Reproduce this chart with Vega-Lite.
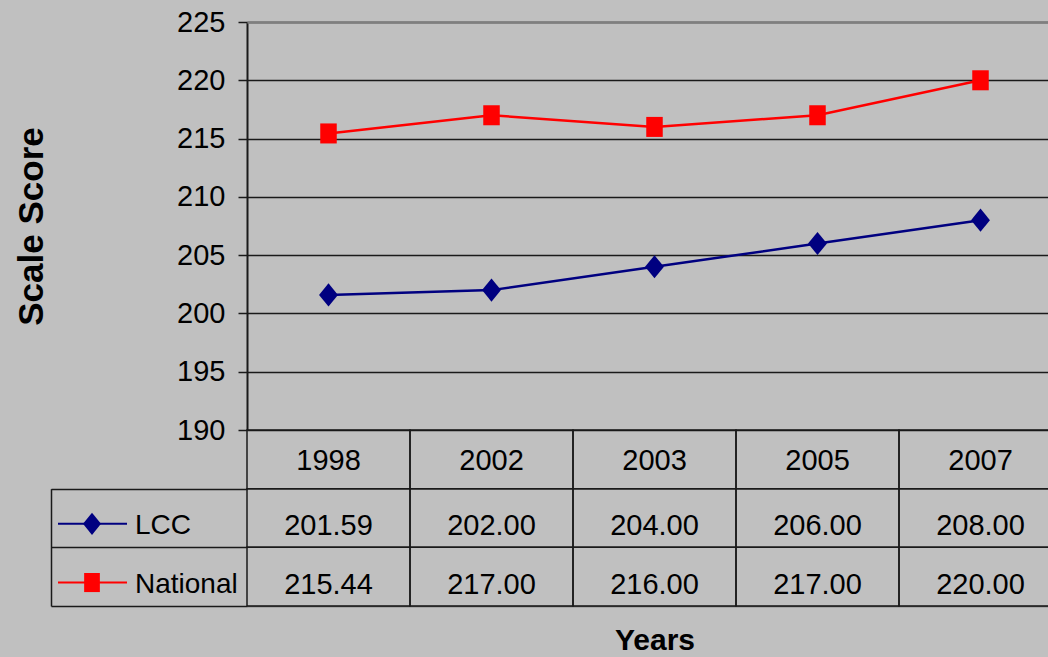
{
  "$schema": "https://vega.github.io/schema/vega-lite/v6.json",
  "width": 801,
  "height": 584,
  "autosize": {"type": "none"},
  "padding": {"left": 247, "top": 22, "right": 0, "bottom": 51},
  "background": "#c0c0c0",
  "config": {"view": {"stroke": null}, "font": "Liberation Sans"},
  "data": {
    "values": [
      {"year": "1998", "series": "LCC", "value": 201.59},
      {"year": "2002", "series": "LCC", "value": 202.0},
      {"year": "2003", "series": "LCC", "value": 204.0},
      {"year": "2005", "series": "LCC", "value": 206.0},
      {"year": "2007", "series": "LCC", "value": 208.0},
      {"year": "1998", "series": "National", "value": 215.44},
      {"year": "2002", "series": "National", "value": 217.0},
      {"year": "2003", "series": "National", "value": 216.0},
      {"year": "2005", "series": "National", "value": 217.0},
      {"year": "2007", "series": "National", "value": 220.0}
    ]
  },
  "resolve": {
    "scale": {"x": "independent", "y": "independent"},
    "axis": {"x": "independent", "y": "independent"}
  },
  "layer": [
    {
      "mark": {"type": "line", "strokeWidth": 2.5},
      "encoding": {
        "x": {
          "field": "year", "type": "nominal",
          "scale": {"type": "point", "domain": ["1998", "2002", "2003", "2005", "2007"], "range": [0, 815], "padding": 0.5},
          "axis": {"orient": "top", "labels": false, "ticks": false, "grid": false, "domain": true, "domainColor": "#7f7f7f", "domainWidth": 2.5, "title": null, "zindex": 1}
        },
        "y": {
          "field": "value", "type": "quantitative",
          "scale": {"domain": [190, 225], "range": [408, 0], "zero": false, "nice": false},
          "axis": {
            "orient": "left", "values": [190, 195, 200, 205, 210, 215, 220, 225],
            "grid": true, "gridColor": "#1a1a1a", "gridWidth": 1.5,
            "domain": true, "domainColor": "#1a1a1a", "domainWidth": 2,
            "ticks": true, "tickColor": "#1a1a1a", "tickSize": 9, "tickWidth": 1.5,
            "labelFont": "Liberation Sans", "labelFontSize": 29, "labelColor": "black", "labelPadding": 13,
            "labelOverlap": false, "labelFlush": false,
            "title": "Scale Score", "titleFont": "Liberation Sans", "titleFontSize": 35, "titleFontWeight": "bold",
            "titleColor": "black", "titlePadding": 127
          }
        },
        "stroke": {
          "field": "series", "type": "nominal",
          "scale": {"domain": ["LCC", "National"], "range": ["#000080", "#ff0000"]},
          "legend": null
        }
      }
    },
    {
      "mark": {"type": "point", "filled": true, "size": 484, "opacity": 1, "strokeWidth": 0},
      "encoding": {
        "x": {
          "field": "year", "type": "nominal",
          "scale": {"type": "point", "domain": ["1998", "2002", "2003", "2005", "2007"], "range": [0, 815], "padding": 0.5},
          "axis": null
        },
        "y": {
          "field": "value", "type": "quantitative",
          "scale": {"domain": [190, 225], "range": [408, 0], "zero": false, "nice": false},
          "axis": null
        },
        "color": {
          "field": "series", "type": "nominal",
          "scale": {"domain": ["LCC", "National"], "range": ["#000080", "#ff0000"]},
          "legend": null
        },
        "shape": {
          "field": "series", "type": "nominal",
          "scale": {"domain": ["LCC", "National"], "range": ["M0,-1.05L0.86,0L0,1.05L-0.86,0Z", "M-0.75,-0.91H0.75V0.91H-0.75Z"]},
          "legend": null
        }
      }
    },
    {
      "transform": [{"filter": "datum.series === 'LCC'"}],
      "mark": {"type": "rect", "fill": "transparent", "stroke": "#1a1a1a", "strokeWidth": 1.5},
      "encoding": {
        "x": {
          "field": "year", "type": "nominal",
          "scale": {"type": "band", "domain": ["1998", "2002", "2003", "2005", "2007"], "range": [0, 815], "paddingInner": 0, "paddingOuter": 0},
          "axis": null
        },
        "y": {
          "datum": "Year", "type": "nominal",
          "scale": {"type": "band", "domain": ["Year"], "range": [408, 466.67], "paddingInner": 0, "paddingOuter": 0},
          "axis": null
        }
      }
    },
    {
      "transform": [{"filter": "datum.series === 'LCC'"}],
      "mark": {"type": "text", "font": "Liberation Sans", "fontSize": 29, "color": "black", "dy": 2},
      "encoding": {
        "x": {
          "field": "year", "type": "nominal", "bandPosition": 0.5,
          "scale": {"type": "band", "domain": ["1998", "2002", "2003", "2005", "2007"], "range": [0, 815], "paddingInner": 0, "paddingOuter": 0},
          "axis": null
        },
        "y": {
          "datum": "Year", "type": "nominal", "bandPosition": 0.5,
          "scale": {"type": "band", "domain": ["Year"], "range": [408, 466.67], "paddingInner": 0, "paddingOuter": 0},
          "axis": null
        },
        "text": {"field": "year", "type": "nominal"}
      }
    },
    {
      "mark": {"type": "rect", "fill": "transparent", "stroke": "#1a1a1a", "strokeWidth": 1.5},
      "encoding": {
        "x": {
          "field": "year", "type": "nominal",
          "scale": {"type": "band", "domain": ["1998", "2002", "2003", "2005", "2007"], "range": [0, 815], "paddingInner": 0, "paddingOuter": 0},
          "axis": null
        },
        "y": {
          "field": "series", "type": "nominal",
          "scale": {"type": "band", "domain": ["LCC", "National"], "range": [466.67, 584], "paddingInner": 0, "paddingOuter": 0},
          "axis": {
            "orient": "left", "offset": 196, "labels": false, "grid": false, "title": null,
            "domain": true, "domainColor": "#1a1a1a", "domainWidth": 1.5,
            "ticks": true, "tickSize": -196, "tickBand": "extent", "tickColor": "#1a1a1a", "tickWidth": 1.5
          }
        }
      }
    },
    {
      "mark": {"type": "text", "font": "Liberation Sans", "fontSize": 29, "color": "black", "dy": 2},
      "encoding": {
        "x": {
          "field": "year", "type": "nominal", "bandPosition": 0.5,
          "scale": {"type": "band", "domain": ["1998", "2002", "2003", "2005", "2007"], "range": [0, 815], "paddingInner": 0, "paddingOuter": 0},
          "axis": {
            "orient": "bottom", "labels": false, "ticks": false, "grid": false,
            "domain": true, "domainColor": "#5a5a5a", "domainWidth": 1.5,
            "title": "Years", "titleFont": "Liberation Sans", "titleFontSize": 30, "titleFontWeight": "bold",
            "titleColor": "black", "titlePadding": 19
          }
        },
        "y": {
          "field": "series", "type": "nominal", "bandPosition": 0.6,
          "scale": {"type": "band", "domain": ["LCC", "National"], "range": [466.67, 584], "paddingInner": 0, "paddingOuter": 0},
          "axis": null
        },
        "text": {"field": "value", "type": "quantitative", "format": ".2f"}
      }
    },
    {
      "transform": [{"filter": "datum.year === '1998'"}],
      "mark": {"type": "rule", "strokeWidth": 2},
      "encoding": {
        "x": {
          "datum": 7, "type": "quantitative",
          "scale": {"domain": [0, 196], "range": [-196, 0], "zero": false, "nice": false},
          "axis": null
        },
        "x2": {"datum": 76},
        "y": {
          "field": "series", "type": "nominal", "bandPosition": 0.6,
          "scale": {"type": "band", "domain": ["LCC", "National"], "range": [466.67, 584], "paddingInner": 0, "paddingOuter": 0},
          "axis": null
        },
        "stroke": {
          "field": "series", "type": "nominal",
          "scale": {"domain": ["LCC", "National"], "range": ["#000080", "#ff0000"]},
          "legend": null
        }
      }
    },
    {
      "transform": [{"filter": "datum.year === '1998'"}],
      "mark": {"type": "point", "filled": true, "size": 440, "opacity": 1, "strokeWidth": 0},
      "encoding": {
        "x": {
          "datum": 41, "type": "quantitative",
          "scale": {"domain": [0, 196], "range": [-196, 0], "zero": false, "nice": false},
          "axis": null
        },
        "y": {
          "field": "series", "type": "nominal", "bandPosition": 0.6,
          "scale": {"type": "band", "domain": ["LCC", "National"], "range": [466.67, 584], "paddingInner": 0, "paddingOuter": 0},
          "axis": null
        },
        "color": {
          "field": "series", "type": "nominal",
          "scale": {"domain": ["LCC", "National"], "range": ["#000080", "#ff0000"]},
          "legend": null
        },
        "shape": {
          "field": "series", "type": "nominal",
          "scale": {"domain": ["LCC", "National"], "range": ["M0,-1.05L0.86,0L0,1.05L-0.86,0Z", "M-0.75,-0.91H0.75V0.91H-0.75Z"]},
          "legend": null
        }
      }
    },
    {
      "transform": [{"filter": "datum.year === '1998'"}],
      "mark": {"type": "text", "font": "Liberation Sans", "fontSize": 28, "color": "black", "align": "left", "dy": 2},
      "encoding": {
        "x": {
          "datum": 84, "type": "quantitative",
          "scale": {"domain": [0, 196], "range": [-196, 0], "zero": false, "nice": false},
          "axis": null
        },
        "y": {
          "field": "series", "type": "nominal", "bandPosition": 0.6,
          "scale": {"type": "band", "domain": ["LCC", "National"], "range": [466.67, 584], "paddingInner": 0, "paddingOuter": 0},
          "axis": null
        },
        "text": {"field": "series", "type": "nominal"}
      }
    }
  ]
}
